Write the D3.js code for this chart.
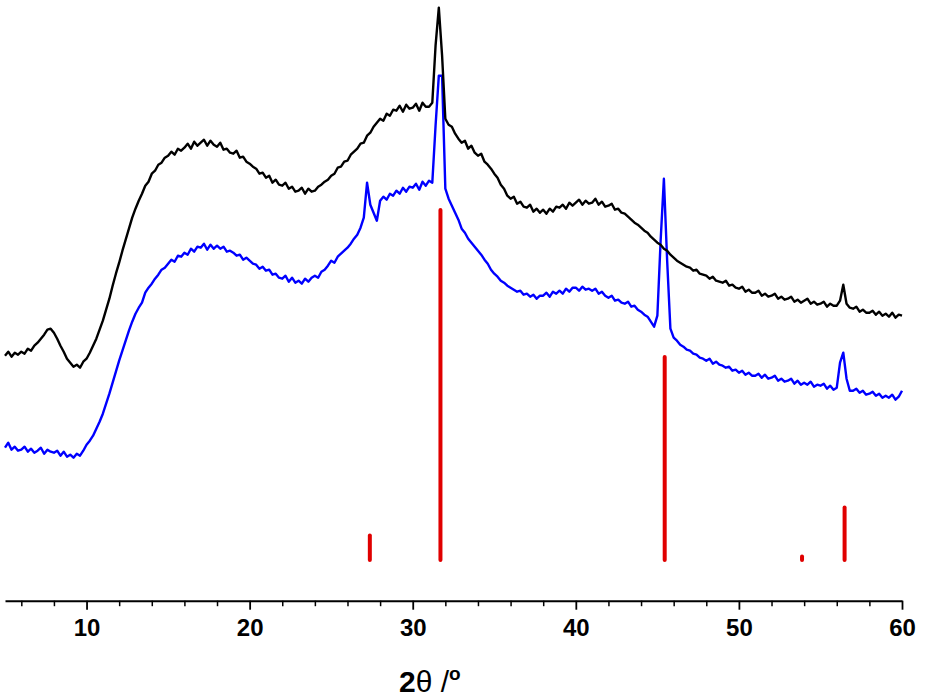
<!DOCTYPE html>
<html>
<head>
<meta charset="utf-8">
<script src="https://cdn.jsdelivr.net/npm/d3@7"></script>
<style>
  body { margin: 0; background: #fff; }
  .axis text { font-family: "Liberation Sans", Arial, sans-serif; font-weight: bold; font-size: 24px; fill: #000; }
  .axis path, .axis line { stroke: #000; }
</style>
</head>
<body>
<div id="xrd-chart"></div>
<script>
// 2theta grid of the scans: 5 to 60 deg, 0.2 deg step
const thetaStart = 5, thetaEnd = 60, thetaStep = 0.2;

// upper (black) scan, intensity in a.u.
const blackScan = [
  245, 249, 244, 248, 246,   249, 247, 252, 250, 255,   258, 262, 266, 271, 272,
  268, 262, 255, 249, 242,   238, 234, 236, 233, 239,   242, 248, 255, 262, 271,
  280, 291, 302, 315, 327,   338, 350, 361, 372, 383,   392, 400, 407, 415, 419,
  427, 430, 436, 438, 443,   445, 449, 446, 452, 450,   453, 457, 452, 459, 455,
  458, 461, 455, 460, 456,   454, 458, 451, 452, 448,   447, 450, 443, 444, 439,
  437, 434, 432, 427, 428,   423, 425, 418, 421, 416,   415, 418, 412, 414, 409,
  410, 413, 407, 412, 409,   410, 414, 416, 419, 421,   425, 427, 433, 434, 439,
  440, 446, 449, 452, 457,   458, 465, 468, 474, 478,   482, 480, 487, 485, 491,
  490, 495, 489, 496, 492,   493, 497, 490, 498, 494,   494, 498, 555, 593, 545,
  482, 476, 474, 467, 462,   458, 460, 452, 455, 448,   445, 447, 439, 436, 432,
  427, 423, 416, 412, 405,   402, 404, 397, 399, 394,   393, 396, 389, 392, 388,
  391, 387, 392, 389, 394,   393, 396, 392, 398, 395,   398, 401, 396, 400, 397,
  398, 402, 396, 399, 394,   395, 397, 391, 392, 388,   387, 384, 381, 378, 376,
  373, 370, 368, 364, 361,   358, 356, 352, 350, 346,   343, 340, 338, 336, 334,
  333, 330, 331, 327, 326,   325, 322, 324, 320, 319,   318, 320, 315, 316, 313,
  312, 314, 309, 311, 308,   308, 310, 305, 307, 304,   305, 307, 302, 304, 301,
  302, 304, 299, 301, 298,   300, 302, 297, 299, 296,   297, 299, 294, 297, 295,
  295, 300, 316, 297, 293,   292, 294, 289, 291, 288,   288, 290, 286, 289, 285,
  287, 284, 288, 283, 286,   285
];

// lower (blue) scan, intensity in a.u.
const blueScan = [
  153, 158, 151, 154, 150,   151, 154, 149, 152, 148,   150, 153, 147, 151, 149,
  148, 150, 145, 149, 144,   146, 143, 147, 145, 150,   156, 160, 165, 172, 179,
  187, 197, 207, 218, 229,   240, 250, 260, 270, 279,   287, 293, 298, 308, 313,
  317, 322, 326, 331, 333,   337, 341, 339, 345, 344,   348, 346, 352, 349, 354,
  353, 357, 351, 356, 352,   355, 352, 354, 349, 350,   348, 345, 346, 341, 343,
  340, 337, 336, 332, 334,   330, 331, 326, 327, 323,   322, 325, 319, 323, 318,
  320, 317, 322, 319, 323,   325, 323, 329, 331, 335,   340, 338, 344, 347, 350,
  353, 357, 362, 366, 373,   383, 418, 396, 388, 380,   400, 404, 401, 407, 405,
  410, 407, 413, 409, 414,   413, 417, 411, 419, 415,   420, 418, 475, 525, 525,
  412, 402, 395, 388, 381,   372, 368, 362, 358, 354,   350, 346, 341, 337, 331,
  327, 324, 320, 318, 315,   313, 311, 309, 310, 306,   307, 304, 306, 302, 305,
  305, 308, 304, 309, 307,   310, 307, 312, 309, 313,   313, 310, 314, 311, 312,
  310, 312, 307, 309, 305,   303, 305, 300, 301, 298,   297, 299, 294, 295, 291,
  289, 286, 284, 279, 274,   285, 360, 422, 340, 272,   263, 260, 256, 254, 251,
  250, 247, 246, 243, 242,   240, 242, 237, 239, 236,   235, 233, 234, 230, 231,
  228, 230, 226, 228, 225,   225, 227, 223, 226, 222,   223, 225, 220, 222, 219,
  220, 222, 217, 220, 216,   218, 216, 219, 214, 216,   215, 217, 212, 215, 211,
  213, 238, 248, 222, 210,   210, 212, 208, 210, 206,   207, 209, 205, 207, 203,
  205, 203, 206, 201, 204,   210
];

// reference pattern (red sticks): position and relative intensity
const refPositions = [27.37, 31.70, 45.45, 53.87, 56.48];
const refIntensity = [7, 100, 58, 1, 15];

// axis ticks
const majorTicks = [10, 20, 30, 40, 50, 60];
const minorTicks = [6, 8, 12, 14, 16, 18, 22, 24, 26, 28, 32, 34, 36, 38, 42, 44, 46, 48, 52, 54, 56, 58];

class XrdChart {

  constructor(_parent) {
    this.parent = _parent;
    this.width = 926;
    this.height = 698;
    this.axisY = 600.7;
    this.initVis();
  }

  initVis() {
    let vis = this;

    vis.svg = d3.select(vis.parent)
      .append("svg")
        .attr("width", vis.width)
        .attr("height", vis.height);

    vis.xScale = d3.scaleLinear()
      .domain([thetaStart, thetaEnd])
      .range([5, 902]);

    // scans share one intensity scale
    vis.yScale = d3.scaleLinear()
      .domain([0, 600])
      .range([vis.axisY, 0.7]);

    // sticks have their own relative scale
    vis.refScale = d3.scaleLinear()
      .domain([0, 100])
      .range([560, 210]);

    vis.theta = blackScan.map((d, i) => thetaStart + i * thetaStep);

    vis.line = d3.line()
      .x((d, i) => vis.xScale(vis.theta[i]))
      .y(d => vis.yScale(d));

    vis.renderVis();
  }

  renderVis() {
    let vis = this;

    // reference sticks
    vis.svg.append("g")
      .selectAll("line")
      .data(refPositions)
      .join("line")
        .attr("x1", d => vis.xScale(d))
        .attr("x2", d => vis.xScale(d))
        .attr("y1", vis.refScale(0))
        .attr("y2", (d, i) => vis.refScale(refIntensity[i]))
        .attr("stroke", "#e00000")
        .attr("stroke-width", 4)
        .attr("stroke-linecap", "round");

    vis.svg.append("path")
      .datum(blueScan)
      .attr("fill", "none")
      .attr("stroke", "#0000ff")
      .attr("stroke-width", 2.4)
      .attr("stroke-linejoin", "round")
      .attr("d", vis.line);

    vis.svg.append("path")
      .datum(blackScan)
      .attr("fill", "none")
      .attr("stroke", "#000")
      .attr("stroke-width", 2.4)
      .attr("stroke-linejoin", "round")
      .attr("d", vis.line);

    // minor ticks first, then the major axis with labels
    vis.svg.append("g")
      .attr("class", "axis")
      .attr("transform", "translate(0," + vis.axisY + ")")
      .call(d3.axisBottom(vis.xScale).tickValues(minorTicks).tickSize(5.5).tickSizeOuter(0).tickFormat(""))
      .call(g => g.select(".domain").remove())
      .selectAll("line").attr("stroke-width", 1.5);

    vis.xAxisG = vis.svg.append("g")
      .attr("class", "axis")
      .attr("transform", "translate(0," + vis.axisY + ")")
      .call(d3.axisBottom(vis.xScale).tickValues(majorTicks).tickSize(9).tickSizeOuter(0).tickPadding(9.5));

    vis.xAxisG.select(".domain").attr("stroke-width", 2);
    vis.xAxisG.selectAll(".tick line").attr("stroke-width", 1.8);

    // x label: 2theta /o
    let title = vis.svg.append("text")
      .attr("x", 399)
      .attr("y", 692)
      .attr("text-anchor", "start")
      .style("font-family", "\"Liberation Sans\", Arial, sans-serif")
      .style("font-size", "30px")
      .style("font-weight", "bold");
    title.append("tspan").text("2");
    title.append("tspan").style("font-weight", "normal").text("θ /");
    title.append("tspan").attr("dy", -12).style("font-size", "19px").text("o");
  }
}

let xrdChart = new XrdChart("#xrd-chart");
</script>
</body>
</html>
